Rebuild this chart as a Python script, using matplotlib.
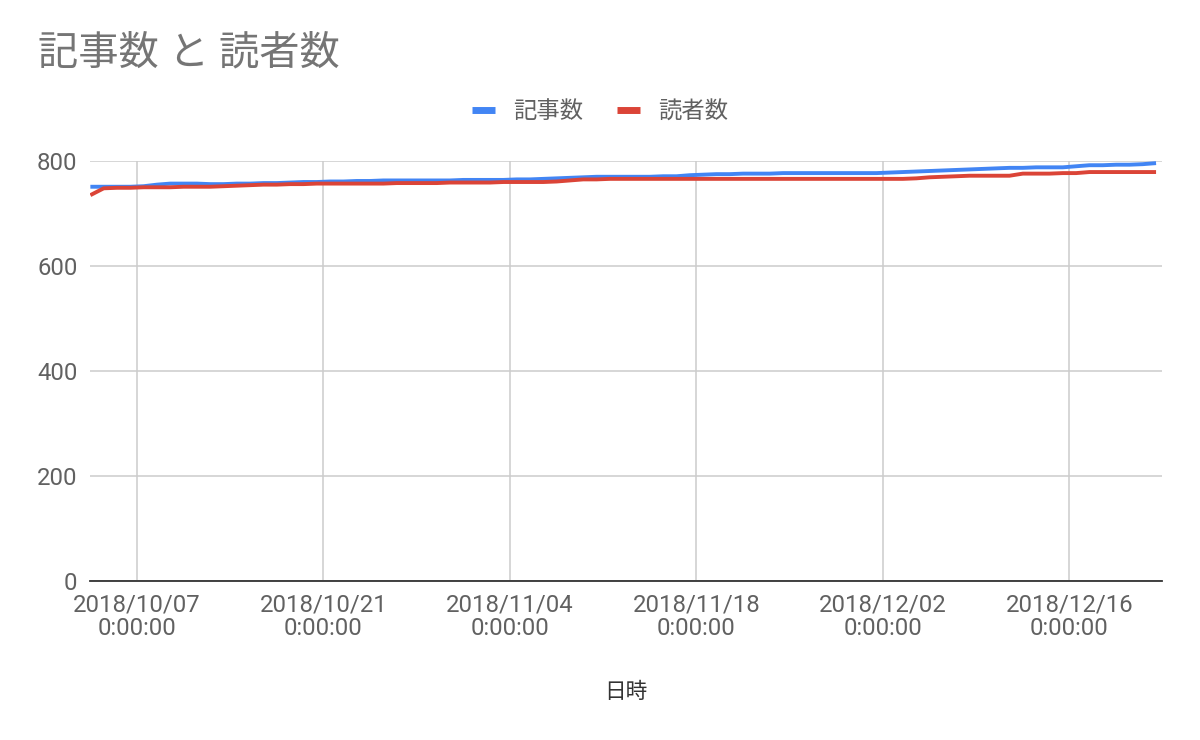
import numpy as np
import pandas as pd
import matplotlib
matplotlib.use("Agg")
import matplotlib.pyplot as plt
import matplotlib.dates as mdates

plt.rcParams['font.family'] = ['Roboto', 'Noto Sans CJK JP', 'DejaVu Sans']

# daily readings, 2018/10/03 12:00 .. 2018/12/22 12:00
start = "2018-10-03 12:00"
articles = [751, 751, 751, 751, 752,
            755, 757,
            757, 757, 756,
            756, 757, 757,
            758, 758, 759, 760, 760,
            761, 761, 762, 762, 763, 763, 763,
            763, 763, 763, 764, 764, 764, 764,
            765, 765, 766, 767, 768, 769,
            770, 770, 770, 770, 770, 771, 771,
            773, 774, 775, 775,
            776, 776, 776, 777, 777, 777, 777,
            777, 777, 777, 777,
            778, 779, 780, 781, 782,
            783, 784, 785, 786, 787,
            787, 788, 788, 788, 790,
            792, 792, 793, 793, 794, 796]
readers = [735, 748, 749, 749, 750,
           750, 750, 751, 751, 751,
           752, 753, 754, 755, 755,
           756, 756, 757, 757, 757,
           757, 757, 757, 758, 758, 758, 758,
           759, 759, 759, 759, 760, 760, 760,
           760, 761, 763, 765, 765,
           766, 766, 766, 766, 766, 766,
           766, 766, 766, 766, 766, 766, 766, 766, 766, 766, 766,
           766, 766, 766, 766, 766, 766, 767, 769,
           770, 771, 772, 772, 772,
           772, 776, 776, 776, 777,
           777, 779, 779, 779, 779, 779, 779]
dates = pd.date_range(start, periods=len(articles), freq="D")

tick_dates = ["2018-10-07", "2018-10-21", "2018-11-04",
              "2018-11-18", "2018-12-02", "2018-12-16"]
y_ticks = [0, 200, 400, 600, 800]

fig = plt.figure(figsize=(12, 7.4), dpi=100)
ax = fig.add_axes([0.075, 0.2149, 0.893, 0.5675])

ax.plot(dates, articles, color="#4285F4", lw=2.8, label="記事数", solid_capstyle="butt")
ax.plot(dates, readers, color="#DB4437", lw=2.8, label="読者数", solid_capstyle="butt")

ax.set_ylim(0, 800)
ax.set_xlim(pd.Timestamp("2018-10-03 11:20"), pd.Timestamp("2018-12-22 22:00"))
ax.set_yticks(y_ticks)
ticks = pd.to_datetime(tick_dates)
ax.set_xticks(ticks)
ax.set_xticklabels([d.strftime("%Y/%m/%d") + "\n0:00:00" for d in ticks])

ax.grid(True, color="#cccccc", lw=1.1)
ax.set_axisbelow(True)
for s in ["top", "right", "left"]:
    ax.spines[s].set_visible(False)
ax.spines["bottom"].set_color("#333333")
ax.spines["bottom"].set_linewidth(1.3)
ax.spines["bottom"].set_zorder(5)
ax.tick_params(axis="both", length=0, labelsize=17.2, labelcolor="#616161")
ax.tick_params(axis="x", pad=9)
ax.tick_params(axis="y", pad=9)
for t in ax.get_xticklabels():
    t.set_linespacing(1.05)

ax.set_xlabel("日時", fontsize=15.6, color="#333333", labelpad=30)

fig.text(0.032, 0.929, "記事数 と 読者数", fontsize=29, color="#757575", va="center")
fig.legend(loc="center", bbox_to_anchor=(0.5, 0.849), ncol=2, frameon=False,
           fontsize=16.8, handlelength=1.0, handleheight=0.6, columnspacing=1.45,
           labelcolor="#616161", handletextpad=0.75)
for line in fig.legends[0].get_lines():
    line.set_linewidth(5)

fig.savefig("out.png", dpi=100)
